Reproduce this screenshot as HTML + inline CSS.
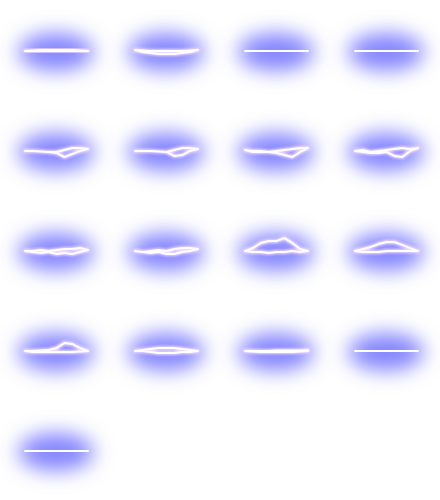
<!DOCTYPE html>
<html><head><meta charset="utf-8">
<style>
html,body{margin:0;padding:0;background:#fff;}
svg{display:block;}
</style></head>
<body>
<svg id="chart" width="440" height="500" viewBox="0 0 440 500" xmlns="http://www.w3.org/2000/svg">
<defs>
<filter id="glow" x="-80%" y="-150%" width="260%" height="400%"><feGaussianBlur stdDeviation="10"/></filter>
<filter id="lglow" x="-20%" y="-200%" width="140%" height="500%"><feGaussianBlur stdDeviation="1.3"/></filter>
</defs>
</svg>
<script>
// Each panel: upper and lower outline values (pixels above baseline) across 9 sample points
const panelNames = ["p1","p2","p3","p4","p5","p6","p7","p8","p9","p10","p11","p12","p13","p14","p15","p16","p17"];
const upperValues = [
 [0,0.5,1,1,1,1,1,0.5,0],
 [1,0.5,0,0,0,0,0,0.5,1],
 [0,0,0,0,0,0,0,0,0],
 [0,0,0,0,0,0,0,0,0],
 [0,0,-0.5,-1,-1,1,3,3,2],
 [0,0,0,-0.5,-1,1,3,3,2],
 [1,0,0,-1,0,1,2,3,3],
 [0,1,-1,0,1,2,3,2,3],
 [0,0,1,0,1,2,2,3,1],
 [0,-1,0,1,0,2,3,3,2],
 [0,3,8,10,10,13,8,2,0],
 [0,2,4,7,9,9,6,3,0],
 [0,0,0.5,1,3,8,7,3,0],
 [0,1,2,3,3,3,2,1,0],
 [0,0,0,0,0.5,0.5,0.5,0.5,1],
 [0,0,0,0,0,0,0,0,0],
 [0,0,0,0,0,0,0,0,0]
];
const lowerValues = [
 [0,0,0,0,0,0,0,0,0],
 [1,-1,-2,-3,-3,-3,-2,-1,1],
 [0,0,0,0,0,0,0,0,0],
 [0,0,0,0,0,0,0,0,0],
 [0,0,-0.5,-1,-2,-6,-3,0,2],
 [0,0,0,-0.5,-1,-5,-4,0,2],
 [1,-1,-1,-1,-2,-4,-6,-1,3],
 [0,-1,-2,-2,-1,-5,-6,0,3],
 [0,-1,-2,-1,-3,-2,-3,-1,1],
 [0,-1,-2,-1,-3,-3,-1,0,2],
 [0,-1,-1,-2,-1,-1,0,-1,0],
 [0,-1,-1,-1,0,0,0,0,0],
 [0,-1,-1,-1,-1,-1,-1,-0.5,0],
 [0,0,-1,-2,-2,-2,-1,-1,0],
 [0,-0.5,-1,-1,-1,-1,-1,-0.5,0],
 [0,0,0,0,0,0,0,0,0],
 [0,0,0,0,0,0,0,0,0]
];
const svg = document.getElementById('chart');
const NS = 'http://www.w3.org/2000/svg';
const cols = 4, cellW = 110, cellH = 100;
const xStart = -30, xEnd = 33;
function xScale(i, n){ return xStart + (xEnd - xStart) * i / (n - 1); }
function yScale(v){ return -v; }
panelNames.forEach((name, k) => {
  const c = k % cols, r = Math.floor(k / cols);
  const cx = 55 + c * cellW, cy = 51 + r * cellH;
  const g = document.createElementNS(NS, 'g');
  
  
  g.setAttribute('transform', `translate(${cx},${cy})`);
  const e = document.createElementNS(NS, 'ellipse');
  
  
  e.setAttribute('cx', 1); e.setAttribute('cy', 1);
  e.setAttribute('rx', 38); e.setAttribute('ry', 19);
  e.setAttribute('fill', '#8484ff');
  e.setAttribute('filter', 'url(#glow)');
  g.appendChild(e);
  const up = upperValues[k], lo = lowerValues[k];
  const pts = [];
  up.forEach((v, i) => pts.push([xScale(i, up.length), yScale(v)]));
  for (let i = lo.length - 1; i >= 0; i--) pts.push([xScale(i, lo.length), yScale(lo[i])]);
  const d = 'M' + pts.map(p => p[0].toFixed(1) + ',' + p[1].toFixed(1)).join('L') + 'Z';
  const gl = document.createElementNS(NS, 'path');
  
  
  gl.setAttribute('d', d);
  gl.setAttribute('fill', 'none');
  gl.setAttribute('stroke', '#f0d8ff');
  gl.setAttribute('stroke-width', 4);
  gl.setAttribute('stroke-linejoin', 'round');
  gl.setAttribute('filter', 'url(#lglow)');
  g.appendChild(gl);
  const p = document.createElementNS(NS, 'path');
  
  
  p.setAttribute('d', d);
  p.setAttribute('fill', 'none');
  p.setAttribute('stroke', '#ffffff');
  p.setAttribute('stroke-width', 2);
  p.setAttribute('stroke-linejoin', 'round');
  g.appendChild(p);
  svg.appendChild(g);
});
</script>
</body></html>
